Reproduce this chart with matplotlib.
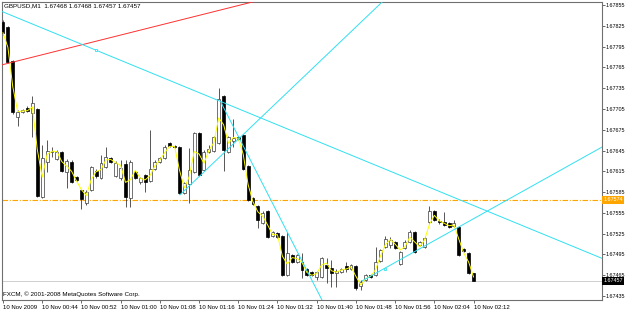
import numpy as np
import pandas as pd
import matplotlib.pyplot as plt
from matplotlib.transforms import blended_transform_factory

plt.rcParams['font.family'] = ['Liberation Sans', 'DejaVu Sans']

# GBPUSD M1 bars, 10 Nov 2009 00:36 .. 02:12
opens = [1.67830, 1.67823, 1.67774, 1.67693, 1.67701, 1.67706, 1.67699, 1.67705, 1.67578, 1.67628,
         1.67643, 1.67633, 1.67643, 1.67614, 1.67628, 1.67607, 1.67588, 1.67569, 1.67588, 1.67615,
         1.67605, 1.67621, 1.67634, 1.67608, 1.67605, 1.67626, 1.67576, 1.67614, 1.67600, 1.67610,
         1.67601, 1.67618, 1.67628, 1.67634, 1.67656, 1.67652, 1.67650, 1.67584, 1.67597, 1.67614,
         1.67670, 1.67617, 1.67643, 1.67644, 1.67656, 1.67724, 1.67643, 1.67659, 1.67665, 1.67667,
         1.67623, 1.67576, 1.67565, 1.67540, 1.67558, 1.67522, 1.67526, 1.67522, 1.67465, 1.67494,
         1.67484, 1.67484, 1.67474, 1.67470, 1.67462, 1.67462, 1.67480, 1.67475, 1.67468, 1.67470,
         1.67478, 1.67474, 1.67478, 1.67450, 1.67458, 1.67465, 1.67465, 1.67486, 1.67506, 1.67509,
         1.67513, 1.67481, 1.67504, 1.67513, 1.67527, 1.67509, 1.67506, 1.67542, 1.67558, 1.67543,
         1.67542, 1.67540, 1.67536, 1.67535, 1.67503, 1.67497, 1.67468]
highs = [1.67833, 1.67825, 1.67776, 1.67703, 1.67705, 1.67709, 1.67724, 1.67706, 1.67653, 1.67660,
         1.67650, 1.67646, 1.67644, 1.67633, 1.67631, 1.67608, 1.67589, 1.67588, 1.67623, 1.67618,
         1.67639, 1.67650, 1.67636, 1.67630, 1.67631, 1.67631, 1.67631, 1.67617, 1.67607, 1.67611,
         1.67675, 1.67631, 1.67636, 1.67653, 1.67657, 1.67653, 1.67652, 1.67600, 1.67649, 1.67672,
         1.67672, 1.67646, 1.67653, 1.67666, 1.67735, 1.67725, 1.67666, 1.67690, 1.67666, 1.67669,
         1.67624, 1.67578, 1.67566, 1.67558, 1.67559, 1.67529, 1.67527, 1.67523, 1.67527, 1.67496,
         1.67496, 1.67497, 1.67475, 1.67471, 1.67471, 1.67491, 1.67490, 1.67487, 1.67474, 1.67475,
         1.67484, 1.67481, 1.67480, 1.67458, 1.67467, 1.67467, 1.67506, 1.67503, 1.67522, 1.67520,
         1.67514, 1.67500, 1.67516, 1.67530, 1.67529, 1.67514, 1.67522, 1.67565, 1.67559, 1.67546,
         1.67556, 1.67542, 1.67545, 1.67536, 1.67504, 1.67499, 1.67468]
lows = [1.67812, 1.67771, 1.67698, 1.67680, 1.67699, 1.67701, 1.67665, 1.67578, 1.67576, 1.67614,
        1.67636, 1.67631, 1.67614, 1.67591, 1.67598, 1.67601, 1.67561, 1.67566, 1.67587, 1.67605,
        1.67604, 1.67620, 1.67627, 1.67607, 1.67602, 1.67564, 1.67564, 1.67604, 1.67597, 1.67585,
        1.67600, 1.67617, 1.67627, 1.67633, 1.67650, 1.67649, 1.67582, 1.67582, 1.67569, 1.67613,
        1.67608, 1.67615, 1.67641, 1.67643, 1.67654, 1.67615, 1.67641, 1.67650, 1.67660, 1.67617,
        1.67572, 1.67566, 1.67533, 1.67539, 1.67519, 1.67520, 1.67519, 1.67464, 1.67464, 1.67483,
        1.67483, 1.67461, 1.67464, 1.67464, 1.67458, 1.67461, 1.67454, 1.67448, 1.67448, 1.67468,
        1.67470, 1.67473, 1.67444, 1.67444, 1.67457, 1.67461, 1.67464, 1.67484, 1.67504, 1.67504,
        1.67503, 1.67480, 1.67503, 1.67512, 1.67497, 1.67507, 1.67504, 1.67539, 1.67543, 1.67539,
        1.67536, 1.67533, 1.67535, 1.67493, 1.67499, 1.67467, 1.67457]
closes = [1.67815, 1.67773, 1.67701, 1.67701, 1.67703, 1.67702, 1.67714, 1.67579, 1.67634, 1.67644,
          1.67644, 1.67643, 1.67615, 1.67630, 1.67600, 1.67602, 1.67575, 1.67585, 1.67621, 1.67608,
          1.67627, 1.67636, 1.67628, 1.67627, 1.67620, 1.67578, 1.67628, 1.67605, 1.67605, 1.67600,
          1.67618, 1.67628, 1.67634, 1.67650, 1.67652, 1.67650, 1.67584, 1.67598, 1.67617, 1.67670,
          1.67610, 1.67643, 1.67647, 1.67665, 1.67719, 1.67646, 1.67665, 1.67663, 1.67662, 1.67618,
          1.67574, 1.67568, 1.67545, 1.67555, 1.67520, 1.67527, 1.67520, 1.67465, 1.67497, 1.67484,
          1.67494, 1.67473, 1.67465, 1.67465, 1.67470, 1.67490, 1.67475, 1.67468, 1.67471, 1.67474,
          1.67474, 1.67480, 1.67447, 1.67455, 1.67465, 1.67462, 1.67484, 1.67501, 1.67517, 1.67516,
          1.67504, 1.67499, 1.67513, 1.67527, 1.67499, 1.67513, 1.67519, 1.67558, 1.67545, 1.67542,
          1.67538, 1.67535, 1.67540, 1.67494, 1.67500, 1.67468, 1.67457]

time_bars = [0, 8, 16, 24, 32, 40, 48, 56, 64, 72, 80, 88, 96]
time_labels = ["10 Nov 2009", "10 Nov 00:44", "10 Nov 00:52", "10 Nov 01:00", "10 Nov 01:08",
               "10 Nov 01:16", "10 Nov 01:24", "10 Nov 01:32", "10 Nov 01:40", "10 Nov 01:48",
               "10 Nov 01:56", "10 Nov 02:04", "10 Nov 02:12"]
price_ticks = [1.67855, 1.67825, 1.67795, 1.67765, 1.67735, 1.67705, 1.67675, 1.67645,
               1.67615, 1.67585, 1.67555, 1.67525, 1.67495, 1.67465, 1.67435]

level_price = 1.67574
last_price = 1.67457

# trend lines as (bar, price) anchor pairs
red_line = [(0, 1.67769), (40, 1.67840)]
cyan_down = [(0, 1.67845), (100, 1.67554)]
cyan_steep_up = [(36.1, 1.67581), (77.3, 1.67859)]
cyan_steep_down = [(44.5, 1.67714), (65.1, 1.67429)]
cyan_up = [(73.3, 1.67457), (122.2, 1.67650)]
anchor_marks = [(18.9, 1.67790), (78.0, 1.67474)]

o = np.array(opens)
h = np.array(highs)
l = np.array(lows)
c = np.array(closes)
x = np.arange(len(o))
up = c >= o

fig = plt.figure(figsize=(6.25, 3.11), dpi=100)
ax = fig.add_axes([2 / 625, 11 / 311, 600 / 625, 298 / 311])
ax.set_xlim(-0.2, 122.2)
ax.set_ylim(1.674293, 1.678593)

# level and current price lines
ax.axhline(level_price, color="#FFA500", lw=0.8, linestyle=(0, (5, 1.5, 1, 1.5)), zorder=1)
ax.axhline(last_price, color="#C8C8C8", lw=0.6, zorder=1)

# candles
ax.vlines(x, l, h, color="#3a3a3a", lw=0.6, zorder=2)
bottom = np.minimum(o, c)
height = np.maximum(np.abs(c - o), 0.000004)
ax.bar(x[up], height[up], bottom=bottom[up], width=0.6, color="white",
       edgecolor="#3a3a3a", lw=0.5, zorder=3)
ax.bar(x[~up], height[~up], bottom=bottom[~up], width=0.6, color="black",
       edgecolor="black", lw=0.5, zorder=3)

# yellow smoothing line of closes
ma = pd.Series(c).rolling(2, min_periods=1).mean()
ax.plot(x, ma, color="#FFFF00", lw=0.7, zorder=4)


def ray(pts, x0, x1):
    (a, pa), (b, pb) = pts
    k = (pb - pa) / (b - a)
    return [x0, x1], [pa + k * (x0 - a), pa + k * (x1 - a)]


xs, ys = ray(red_line, -5, 130)
ax.plot(xs, ys, color="#FF3030", lw=0.7, zorder=5)
xs, ys = ray(cyan_down, -5, 130)
ax.plot(xs, ys, color="#30E0F0", lw=0.7, zorder=5)
xs, ys = ray(cyan_steep_up, cyan_steep_up[0][0], 130)
ax.plot(xs, ys, color="#30E0F0", lw=0.7, zorder=5)
xs, ys = ray(cyan_steep_down, cyan_steep_down[0][0], 130)
ax.plot(xs, ys, color="#30E0F0", lw=0.7, zorder=5)
xs, ys = ray(cyan_up, cyan_up[0][0], 130)
ax.plot(xs, ys, color="#30E0F0", lw=0.7, zorder=5)
ax.plot([p[0] for p in anchor_marks], [p[1] for p in anchor_marks], "s", ms=2,
        mfc="white", mec="#30E0F0", mew=0.6, zorder=6)

# axes styling
for s in ax.spines.values():
    s.set_color("#707070")
    s.set_linewidth(0.8)
ax.yaxis.tick_right()
ax.set_yticks(price_ticks)
ax.set_yticklabels(["%.5f" % p for p in price_ticks])
ax.set_xticks(time_bars)
ax.set_xticklabels(time_labels, ha="left")
ax.tick_params(axis="x", length=2.5, width=0.6, color="#505050", labelsize=4.3, pad=1)
ax.tick_params(axis="y", length=2, width=0.6, color="#505050", labelsize=3.9, pad=0.4)

tr = blended_transform_factory(ax.transAxes, ax.transData)
ax.text(1.002, level_price, "%.5f" % level_price, transform=tr, va="center", ha="left",
        fontsize=3.9, color="white",
        bbox=dict(facecolor="#FFA500", edgecolor="none", boxstyle="square,pad=0.25"))
ax.text(1.002, last_price, "%.5f" % last_price, transform=tr, va="center", ha="left",
        fontsize=3.9, color="white",
        bbox=dict(facecolor="black", edgecolor="none", boxstyle="square,pad=0.25"))

fig.text(4 / 625, 1 - 3 / 311, "GBPUSD,M1  1.67468 1.67468 1.67457 1.67457",
         va="top", ha="left", fontsize=4.5)
fig.text(3 / 625, 1 - 297 / 311, "FXCM, \u00a9 2001-2008 MetaQuotes Software Corp.",
         va="bottom", ha="left", fontsize=4.5)

fig.savefig("out.png", dpi=100)
